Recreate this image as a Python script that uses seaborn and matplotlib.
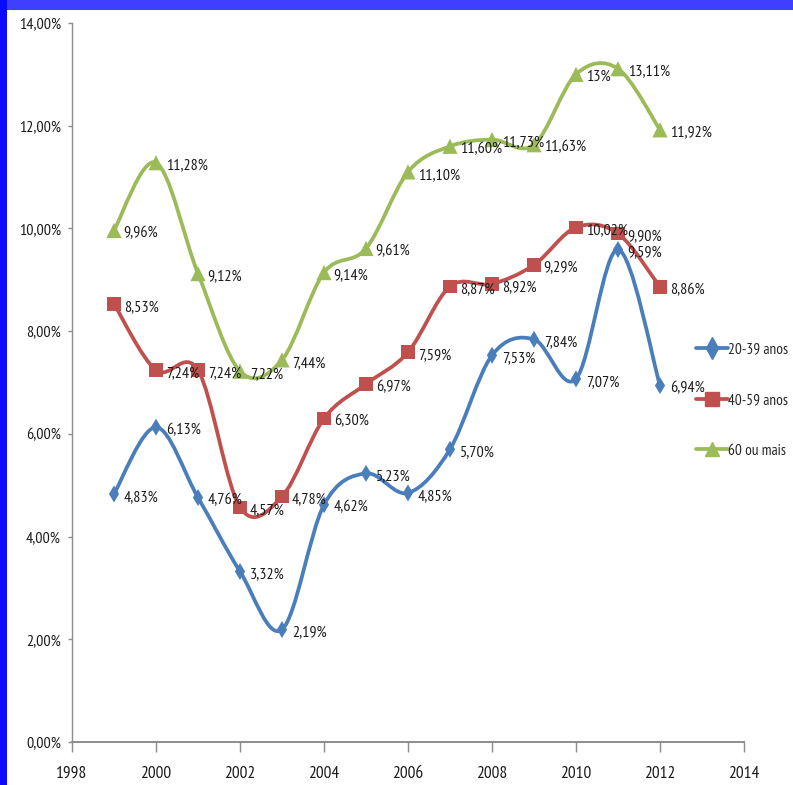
import matplotlib
matplotlib.use("Agg")
import matplotlib.pyplot as plt
from matplotlib.path import Path
from matplotlib.patches import PathPatch, Rectangle
from matplotlib.lines import Line2D
from matplotlib.ticker import FuncFormatter, MultipleLocator
import seaborn as sns
import pandas as pd

# dados (percentuais)
years = [1999, 2000, 2001, 2002, 2003, 2004, 2005, 2006, 2007, 2008, 2009, 2010, 2011, 2012]
faixa_20_39 = [4.83, 6.13, 4.76, 3.32, 2.19, 4.62, 5.23, 4.85, 5.70, 7.53, 7.84, 7.07, 9.59, 6.94]
faixa_40_59 = [8.53, 7.24, 7.24, 4.57, 4.78, 6.30, 6.97, 7.59, 8.87, 8.92, 9.29, 10.02, 9.90, 8.86]
faixa_60_mais = [9.96, 11.28, 9.12, 7.22, 7.44, 9.14, 9.61, 11.10, 11.60, 11.73, 11.63, 13.00, 13.11, 11.92]
series_names = ["20-39 anos", "40-59 anos", "60 ou mais"]
label_override = {("60 ou mais", 2010): "13%"}

colors = {"20-39 anos": "#4a7ebb", "40-59 anos": "#c0504d", "60 ou mais": "#9bbb59"}
markers = {"20-39 anos": "d", "40-59 anos": "s", "60 ou mais": "^"}
sizes = {"20-39 anos": 75, "40-59 anos": 95, "60 ou mais": 120}

sns.set_theme(style="white")
plt.rcParams["font.family"] = ["PT Sans Narrow", "DejaVu Sans"]

df = pd.DataFrame({
    "ano": years * 3,
    "valor": faixa_20_39 + faixa_40_59 + faixa_60_mais,
    "faixa": [n for n in series_names for _ in years],
})


def pt_br(v):
    return f"{v:.2f}".replace(".", ",") + "%"


def smooth_path(xs, ys):
    # bezier no estilo "linha suavizada" do Excel
    pts = list(zip(xs, ys))
    verts = [pts[0]]
    codes = [Path.MOVETO]
    n = len(pts)
    for i in range(n - 1):
        p0 = pts[i - 1] if i > 0 else pts[i]
        p1, p2 = pts[i], pts[i + 1]
        p3 = pts[i + 2] if i + 2 < n else pts[i + 1]
        c1 = (p1[0] + (p2[0] - p0[0]) / 6, p1[1] + (p2[1] - p0[1]) / 6)
        c2 = (p2[0] - (p3[0] - p1[0]) / 6, p2[1] - (p3[1] - p1[1]) / 6)
        verts += [c1, c2, p2]
        codes += [Path.CURVE4] * 3
    return Path(verts, codes)


W, H = 793, 785
fig = plt.figure(figsize=(W / 100, H / 100), dpi=100, facecolor="#0a0aff")
fig.patches.append(Rectangle((7 / W, 0), 1, 1 - 10 / H, transform=fig.transFigure,
                             facecolor="white", edgecolor="none", zorder=-10))
fig.patches.append(Rectangle((7 / W, 1 - 10 / H), 1, 10 / H, transform=fig.transFigure,
                             facecolor="#3f3fff", edgecolor="none", zorder=-10))

ax = fig.add_axes([72 / W, 43 / H, (744 - 72) / W, (742 - 23) / H])
ax.set_facecolor("none")

for name in series_names:
    sub = df[df["faixa"] == name]
    ax.add_patch(PathPatch(smooth_path(sub["ano"].tolist(), sub["valor"].tolist()),
                           facecolor="none", edgecolor=colors[name], lw=2.7,
                           capstyle="round", joinstyle="round", zorder=2))

sns.scatterplot(data=df, x="ano", y="valor", hue="faixa", style="faixa",
                palette=colors, markers=markers, size="faixa", sizes=sizes,
                edgecolor="none", linewidth=0, legend=False, ax=ax, zorder=3)

for _, row in df.iterrows():
    txt = label_override.get((row["faixa"], row["ano"]), pt_br(row["valor"]))
    ax.annotate(txt, (row["ano"], row["valor"]), xytext=(7, -2),
                textcoords="offset points", ha="left", va="center",
                fontsize=11.5, color="#1a1a1a", zorder=4)

ax.set_xlim(1998, 2014)
ax.set_ylim(0, 14)
ax.xaxis.set_major_locator(MultipleLocator(2))
ax.yaxis.set_major_locator(MultipleLocator(2))
ax.yaxis.set_major_formatter(FuncFormatter(lambda v, p: pt_br(v)))
ax.set_xlabel("")
ax.set_ylabel("")

for side in ["top", "right"]:
    ax.spines[side].set_visible(False)
for side in ["left", "bottom"]:
    ax.spines[side].set_color("#8c8c8c")
ax.spines["left"].set_linewidth(1.0)
ax.spines["bottom"].set_linewidth(1.4)
ax.tick_params(axis="y", direction="out", length=3, width=1, color="#8c8c8c",
               pad=5, labelsize=11.5, labelcolor="#1a1a1a", left=True)
ax.tick_params(axis="x", direction="out", length=7, width=1, color="#8c8c8c",
               pad=10, labelsize=12.5, labelcolor="#1a1a1a", bottom=True)

handles = [Line2D([], [], color=colors[n], lw=2.7, marker=markers[n],
                  markersize=10 if n != "20-39 anos" else 11) for n in series_names]
fig.legend(handles, series_names, loc="center left",
           bbox_to_anchor=(696 / W, 1 - 400 / H), bbox_transform=fig.transFigure,
           frameon=False, fontsize=11, handlelength=2.1, handletextpad=0.0,
           labelspacing=2.4, borderpad=0, borderaxespad=0)

fig.savefig("out.png", dpi=100, facecolor=fig.get_facecolor())
